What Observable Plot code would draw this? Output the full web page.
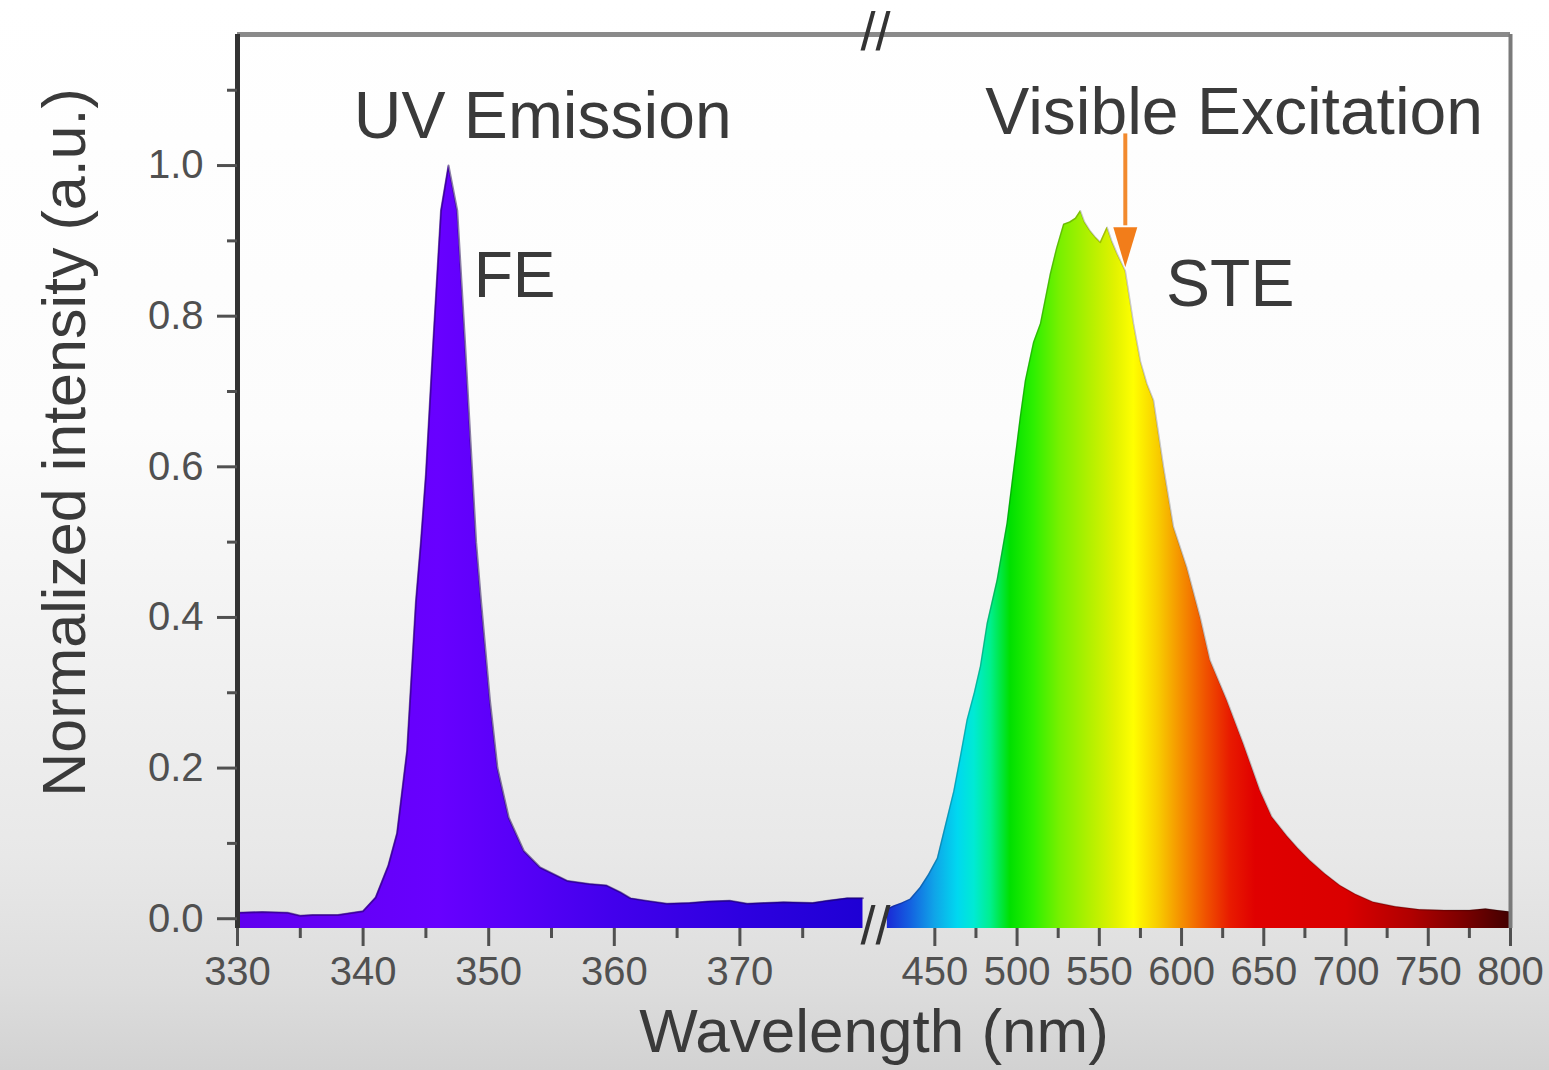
<!DOCTYPE html>
<html>
<head>
<meta charset="utf-8">
<script src="https://cdn.jsdelivr.net/npm/d3@7"></script>
<script src="https://cdn.jsdelivr.net/npm/@observablehq/plot@0.6"></script>
<style>
  html, body { margin: 0; padding: 0; }
  body {
    width: 1549px; height: 1070px; overflow: hidden;
    background: linear-gradient(to bottom, #ffffff 0%, #fcfcfc 40%, #f1f1f1 62%, #e8e8e8 80%, #dddddd 92%, #d2d2d2 100%);
    font-family: "Liberation Sans", Arial, sans-serif;
  }
  #chart svg { display: block; }
</style>
</head>
<body>
<div id="chart"></div>
<script>
// ---- Data ----
// UV emission (free exciton, FE)
const uvWavelength = [330, 332, 334, 335, 336, 338, 340, 341, 342, 342.7, 343.5, 344.2, 344.6, 345.0, 345.6, 346.2, 346.8, 347.5, 348.1, 348.7, 349.0, 349.4, 350.1, 350.7, 351.6, 352.8, 354.1, 356.3, 358, 359.4, 360.5, 361.3, 362.5, 364.2, 366, 367.5, 369.2, 370.6, 372, 373.5, 375.8, 377, 378.5, 379.8];
const uvIntensity  = [0.008, 0.009, 0.008, 0.004, 0.005, 0.005, 0.010, 0.028, 0.07, 0.113, 0.223, 0.42, 0.50, 0.59, 0.77, 0.94, 1.0, 0.94, 0.77, 0.59, 0.50, 0.42, 0.29, 0.20, 0.134, 0.09, 0.068, 0.05, 0.046, 0.044, 0.035, 0.027, 0.024, 0.02, 0.021, 0.023, 0.024, 0.02, 0.021, 0.022, 0.021, 0.024, 0.027, 0.027];

// Visible self-trapped exciton (STE) band
const steWavelength = [421.1, 425, 430, 435, 441, 446, 451.5, 456, 461.5, 465.5, 469.6, 474, 477.7, 481.8, 487.8, 493.9, 497.9, 502, 505, 510, 514.2, 520.2, 524, 528.3, 532, 535.5, 538.5, 541, 544.5, 547.5, 550.6, 554.7, 557.5, 560.8, 565.8, 570.8, 575, 579, 583, 589.1, 595.1, 603.3, 611.4, 617.4, 627.6, 637.7, 647.8, 655, 664, 671, 678.2, 687, 696.4, 706, 716.6, 730, 745, 760, 775, 785, 792, 800];
const steIntensity  = [0.013, 0.017, 0.021, 0.026, 0.041, 0.058, 0.08, 0.12, 0.169, 0.215, 0.264, 0.30, 0.335, 0.392, 0.449, 0.525, 0.596, 0.667, 0.714, 0.765, 0.79, 0.856, 0.89, 0.922, 0.925, 0.93, 0.94, 0.925, 0.913, 0.905, 0.898, 0.918, 0.90, 0.883, 0.86, 0.79, 0.74, 0.71, 0.688, 0.599, 0.520, 0.466, 0.40, 0.343, 0.29, 0.232, 0.17, 0.135, 0.11, 0.093, 0.077, 0.06, 0.044, 0.032, 0.022, 0.016, 0.012, 0.011, 0.011, 0.013, 0.011, 0.009];

// Axis ticks
const xTicksMajor = [330, 340, 350, 360, 370, 450, 500, 550, 600, 650, 700, 750, 800];
const xTicksMinor = [335, 345, 355, 365, 375, 475, 525, 575, 625, 675, 725, 775];
const yTicksMajor = [0, 0.2, 0.4, 0.6, 0.8, 1.0];
const yTicksMinor = [0.1, 0.3, 0.5, 0.7, 0.9, 1.1];

// Annotations (data coordinates)
const noteText   = ["UV Emission", "FE", "Visible Excitation", "STE"];
const noteX      = [354.3, 348.8, 632, 629.6];
const noteY      = [1.064, 0.853, 1.070, 0.842];
const noteAnchor = ["middle", "start", "middle", "middle"];
const arrowWavelength = [565.8];

// ---- Styles / scale configuration ----
const Y_MIN = -0.013, Y_MAX = 1.174;
const uvStops = [[330, "#6000ee"], [346, "#6800ff"], [352, "#5800f8"], [360, "#4200ec"], [370, "#2e00e0"], [380, "#1e00d4"]];
const steStops = [[421, "#1a28d6"], [435, "#1460e0"], [450, "#10a4e8"], [464, "#00d8f0"], [474, "#00ead4"], [484, "#00ef8e"], [496, "#00e000"], [510, "#2cf000"], [526, "#78f000"], [545, "#b4f000"], [560, "#e2f200"], [571, "#ffff00"], [586, "#f8cc00"], [600, "#f59000"], [615, "#f05200"], [630, "#e81a00"], [645, "#e00000"], [700, "#da0000"], [740, "#b00000"], [770, "#7e0000"], [800, "#420000"]];

const uv = uvWavelength.map((w, i) => ({w, v: uvIntensity[i]}));
const ste = steWavelength.map((w, i) => ({w, v: steIntensity[i]}));
const notes = noteText.map((t, i) => ({t, x: noteX[i], y: noteY[i], a: noteAnchor[i]}));

const arrowHead = {
  draw(ctx) { ctx.moveTo(0, 0); ctx.lineTo(-12, -40); ctx.lineTo(12, -40); ctx.closePath(); }
};

const font = "Liberation Sans, Arial, sans-serif";
const txt = "#3a3a3a";

const chart = Plot.plot({
  width: 1549,
  height: 1070,
  marginLeft: 237,
  marginRight: 39,
  marginTop: 34,
  marginBottom: 142,
  style: {background: "transparent", fontFamily: font},
  x: {type: "linear", domain: [330, 380, 420, 800], range: [237, 865, 885, 1510], axis: null},
  y: {domain: [Y_MIN, Y_MAX], axis: null},
  marks: [
    Plot.areaY(uv, {x: "w", y1: Y_MIN, y2: "v", fill: "url(#uvGrad)"}),
    Plot.areaY(ste, {x: "w", y1: Y_MIN, y2: "v", fill: "url(#steGrad)"}),
    Plot.line(uv, {x: "w", y: "v", stroke: "#1a0050", strokeOpacity: 0.5, strokeWidth: 2}),
    Plot.line(ste, {x: "w", y: "v", stroke: "#000", strokeOpacity: 0.2, strokeWidth: 1.6}),
    // frame
    Plot.ruleY([Y_MAX], {stroke: "#8a8a8a", strokeWidth: 5}),
    Plot.ruleX([800], {stroke: "#7a7a7a", strokeWidth: 4}),
    Plot.ruleX([330], {stroke: "#333", strokeWidth: 5}),
    // axes
    Plot.axisY({ticks: yTicksMajor, tickSize: 20, tickPadding: 14, tickFormat: d3.format(".1f"), fontSize: 40, color: "#505050", strokeWidth: 3, label: null}),
    Plot.axisY({ticks: yTicksMinor, tickSize: 10, tickFormat: () => "", color: "#505050", strokeWidth: 3, label: null}),
    Plot.axisX({ticks: xTicksMajor, tickSize: 18, tickPadding: 10, tickFormat: d3.format("d"), fontSize: 40, color: "#505050", strokeWidth: 3, label: null}),
    Plot.axisX({ticks: xTicksMinor, tickSize: 10, tickFormat: () => "", color: "#505050", strokeWidth: 3, label: null}),
    // axis break marks
    Plot.text(["//"], {x: 400, y: Y_MIN, fontSize: 54, fill: "#333", dy: -2}),
    Plot.text(["//"], {x: 400, y: Y_MAX, fontSize: 54, fill: "#333", dy: -2}),
    // axis titles
    Plot.text(["Normalized intensity (a.u.)"], {frameAnchor: "left", textAnchor: "middle", lineAnchor: "middle", rotate: -90, dx: -172, dy: -39, fontSize: 61, fill: txt}),
    Plot.text(["Wavelength (nm)"], {frameAnchor: "bottom", textAnchor: "middle", lineAnchor: "middle", dy: 104, fontSize: 62, fill: txt}),
    // annotations
    Plot.text(notes.filter(d => d.a === "middle"), {x: "x", y: "y", text: "t", textAnchor: "middle", fontSize: 66, fill: txt}),
    Plot.text(notes.filter(d => d.a === "start"), {x: "x", y: "y", text: "t", textAnchor: "start", fontSize: 64, fill: txt}),
    // arrow
    Plot.ruleX(arrowWavelength, {y1: 0.92, y2: 1.042, stroke: "#f28a2e", strokeWidth: 4}),
    Plot.dot(arrowWavelength, {x: d => d, y: 0.865, symbol: arrowHead, fill: "#f27d1a", stroke: "none", r: 10})
  ]
});

// Spectral gradients positioned with the plot's own x scale
const xs = chart.scale("x");
const svg = d3.select(chart.tagName.toLowerCase() === "svg" ? chart : chart.querySelector("svg"));
const defs = svg.insert("defs", ":first-child");
function gradient(id, stops) {
  const x1 = xs.apply(stops[0][0]), x2 = xs.apply(stops[stops.length - 1][0]);
  const g = defs.append("linearGradient").attr("id", id).attr("gradientUnits", "userSpaceOnUse")
    .attr("x1", x1).attr("x2", x2).attr("y1", 0).attr("y2", 0);
  for (const [w, c] of stops) g.append("stop").attr("offset", (xs.apply(w) - x1) / (x2 - x1)).attr("stop-color", c);
}
gradient("uvGrad", uvStops);
gradient("steGrad", steStops);

document.getElementById("chart").appendChild(chart);
</script>
</body>
</html>
